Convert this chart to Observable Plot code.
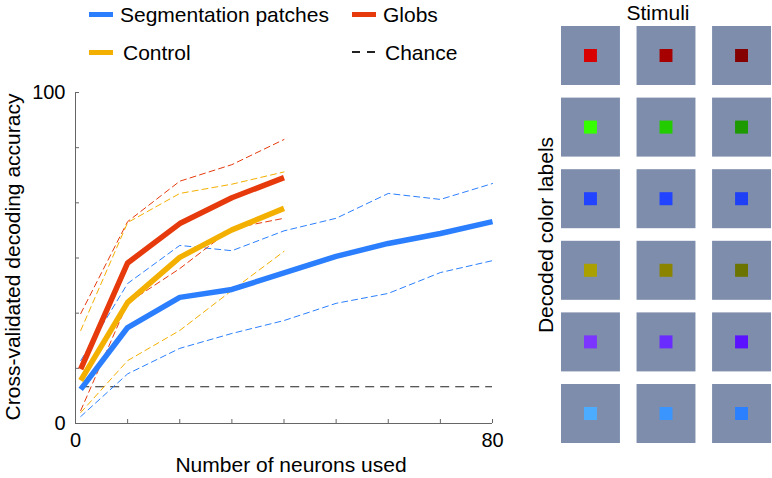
<!DOCTYPE html>
<html>
<head>
<meta charset="utf-8">
<script src="https://cdn.jsdelivr.net/npm/d3@7"></script>
<script src="https://cdn.jsdelivr.net/npm/@observablehq/plot@0.6"></script>
<style>
  html, body { margin: 0; padding: 0; background: #fff; }
  body { width: 772px; height: 478px; position: relative; overflow: hidden;
         font-family: "Liberation Sans", Arial, sans-serif; color: #000; }
  .abs { position: absolute; white-space: nowrap; font-size: 21px; line-height: 21px; height: 21px; }
  .sw { position: absolute; height: 5px; width: 24px; }
  #main { position: absolute; left: 0; top: 0; }
  #grid { position: absolute; left: 520px; top: 0; }
</style>
</head>
<body>
<div id="main"></div>
<div id="grid"></div>
<div id="legend"></div>
<div class="abs" style="left:291px; top:454px; transform: translateX(-50%);">Number of neurons used</div>
<div class="abs" style="left:12px; top:257px; transform: translate(-50%,-50%) rotate(-90deg);">Cross-validated decoding accuracy</div>
<div class="abs" style="left:658px; top:2px; transform: translateX(-50%);">Stimuli</div>
<div class="abs" style="left:545px; top:235px; transform: translate(-50%,-50%) rotate(-90deg);">Decoded color labels</div>
<script>
// ---------- data ----------
const neurons = [1, 10, 20, 30, 40, 50, 60, 70, 80];
const segMean  = [10.3, 29.0, 38.1, 40.5, 45.5, 50.5, 54.4, 57.4, 61.0];
const segUpper = [19.0, 42.3, 53.8, 52.2, 58.2, 62.0, 69.5, 67.7, 72.5];
const segLower = [2.1, 15.0, 22.7, 27.2, 31.1, 36.3, 39.3, 45.6, 49.2];
const globMean  = [16.4, 48.5, 60.4, 68.2, 74.3];
const globUpper = [33.2, 61.0, 73.2, 78.2, 85.8];
const globLower = [3.9, 36.4, 46.8, 58.9, 62.0];
const ctrlMean  = [13.0, 36.6, 50.2, 58.5, 65.0];
const ctrlUpper = [28.1, 60.7, 69.5, 72.3, 76.0];
const ctrlLower = [3.3, 19.0, 28.1, 40.2, 52.0];
const chance = 11.1;

const seriesNames = ["Segmentation patches", "Globs", "Control"];
const seriesColors = ["#2b7fff", "#e63a0c", "#f4b000"];

const xTicks = [0, 10, 20, 30, 40, 50, 60, 70, 80];
const xTickLabels = ["0", "", "", "", "", "", "", "", "80"];
const yTicks = [0, 100/6, 200/6, 50, 400/6, 500/6, 100];
const yTickLabels = ["0", "", "", "", "", "", "100"];

// stimuli grid
const stimColumns = ["s1", "s2", "s3"];
const decodedRows = ["red", "green", "blue", "yellow", "purple", "cyan"];
const stimColors = [
  ["#d80000", "#a60000", "#850000"],
  ["#36ff00", "#22cc00", "#1c9a00"],
  ["#2243ff", "#2243ff", "#2040f5"],
  ["#aaa100", "#8b8400", "#6b7400"],
  ["#7b35ff", "#6a2bff", "#5a12ff"],
  ["#4cacff", "#3b95ff", "#2a80ff"]
];
const tileColor = "#7d8dab";

// ---------- build tables ----------
function rows(name, kind, vals) {
  return vals.map((v, i) => ({n: neurons[i], v, series: name, kind, key: name + kind}));
}
const dashed = [
  ...rows(seriesNames[0], "upper", segUpper), ...rows(seriesNames[0], "lower", segLower),
  ...rows(seriesNames[1], "upper", globUpper), ...rows(seriesNames[1], "lower", globLower),
  ...rows(seriesNames[2], "upper", ctrlUpper), ...rows(seriesNames[2], "lower", ctrlLower)
];
const means = [
  ...rows(seriesNames[0], "mean", segMean),
  ...rows(seriesNames[2], "mean", ctrlMean),
  ...rows(seriesNames[1], "mean", globMean)
];

const font = "Liberation Sans, Arial, sans-serif";

const main = Plot.plot({
  width: 520, height: 478,
  marginTop: 92, marginBottom: 55, marginLeft: 75, marginRight: 28,
  style: {fontFamily: font, fontSize: "20px", background: "transparent", overflow: "visible"},
  x: {domain: [0, 80]},
  y: {domain: [0, 100]},
  color: {domain: seriesNames, range: seriesColors},
  marks: [
    Plot.ruleY([0], {stroke: "#666", strokeWidth: 1}),
    Plot.ruleX([0], {stroke: "#666", strokeWidth: 1}),
    // tick labels
    Plot.axisX(xTicks, {tickSize: 0, tickPadding: 9, fill: "#000",
      tickFormat: (d, i) => xTickLabels[i], label: null}),
    Plot.axisY(yTicks, {tickSize: 0, tickPadding: 10, fill: "#000",
      tickFormat: (d, i) => yTickLabels[i], label: null}),
    // inward tick marks
    Plot.axisX(xTicks, {tickSize: 4, dy: -4, stroke: "#666", tickFormat: () => "", label: null}),
    Plot.axisY(yTicks, {tickSize: 4, dx: 4, stroke: "#666", tickFormat: () => "", label: null}),
    Plot.ruleY([chance], {x1: neurons[0], x2: neurons[neurons.length - 1],
      stroke: "#222", strokeWidth: 1.2, strokeDasharray: "9,6"}),
    Plot.line(dashed, {x: "n", y: "v", z: "key", stroke: "series",
      strokeWidth: 1, strokeDasharray: "6,4", curve: "linear"}),
    Plot.line(means, {x: "n", y: "v", z: "key", stroke: "series",
      strokeWidth: 5.5, strokeLinecap: "butt", strokeLinejoin: "round", curve: "linear"})
  ]
});
document.getElementById("main").appendChild(main);

const tiles = [];
decodedRows.forEach((r, i) => stimColumns.forEach((c, j) => tiles.push({row: r, col: c, color: stimColors[i][j]})));

const grid = Plot.plot({
  width: 252, height: 478,
  marginTop: 26, marginBottom: 35, marginLeft: 41, marginRight: 1,
  style: {background: "transparent"},
  x: {domain: stimColumns, paddingInner: 0.22, paddingOuter: 0, round: false, axis: null},
  y: {domain: decodedRows, paddingInner: 0.176, paddingOuter: 0, round: false, axis: null},
  color: {type: "identity"},
  marks: [
    Plot.cell(tiles, {x: "col", y: "row", fill: tileColor}),
    Plot.cell(tiles, {x: "col", y: "row", fill: "color", inset: 23})
  ]
});
document.getElementById("grid").appendChild(grid);

// ---------- legend (HTML) ----------
const legend = document.getElementById("legend");
const legendItems = [
  {label: seriesNames[0], color: seriesColors[0], lx: 89, tx: 120, row: 0},
  {label: seriesNames[1], color: seriesColors[1], lx: 352, tx: 383, row: 0},
  {label: seriesNames[2], color: seriesColors[2], lx: 89, tx: 123, row: 1},
  {label: "Chance", color: null, lx: 352, tx: 385, row: 1}
];
const rowBase = [22, 60];
legendItems.forEach(it => {
  const lineY = rowBase[it.row] - 8;
  if (it.color) {
    const s = document.createElement("div");
    s.className = "sw";
    s.style.left = it.lx + "px";
    s.style.top = (lineY - 2.5) + "px";
    s.style.background = it.color;
    legend.appendChild(s);
  } else {
    [0, 15].forEach(off => {
      const s = document.createElement("div");
      s.className = "sw";
      s.style.left = (it.lx + off) + "px";
      s.style.width = "8px";
      s.style.height = "2px";
      s.style.top = (lineY - 1) + "px";
      s.style.background = "#222";
      legend.appendChild(s);
    });
  }
  const t = document.createElement("div");
  t.className = "abs";
  t.style.left = it.tx + "px";
  t.style.top = (rowBase[it.row] - 18) + "px";
  t.textContent = it.label;
  legend.appendChild(t);
});
</script>
</body>
</html>
